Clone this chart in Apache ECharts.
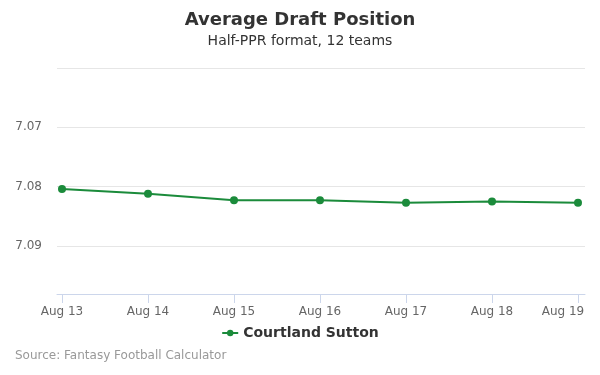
<!DOCTYPE html>
<html>
<head>
<meta charset="utf-8">
<script src="https://cdn.jsdelivr.net/npm/echarts@6/dist/echarts.min.js"></script>
<style>
  html, body { margin: 0; padding: 0; background: #fff; }
  #main { width: 600px; height: 375px; }
</style>
</head>
<body>
<div id="main"></div>
<script>
  // data
  var days = ['Aug 13', 'Aug 14', 'Aug 15', 'Aug 16', 'Aug 17', 'Aug 18', 'Aug 19'];
  var adp = [7.0804, 7.0812, 7.0823, 7.0823, 7.0827, 7.0825, 7.0827];
  var yTickLabels = ['7.07', '7.08', '7.09'];
  var playerName = 'Courtland Sutton';

  var green = '#1b8b3b';
  var font = 'DejaVu Sans';
  var yMin = 7.06, yMax = 7.0981;

  var myChart = echarts.init(document.getElementById('main'));

  myChart.setOption({
    animation: false,
    textStyle: { fontFamily: font },
    title: {
      text: 'Average Draft Position',
      subtext: 'Half-PPR format, 12 teams',
      left: 'center',
      top: 6,
      itemGap: 5,
      textStyle: { fontSize: 18, fontWeight: 'bold', color: '#333', fontFamily: font },
      subtextStyle: { fontSize: 14, color: '#333', fontFamily: font }
    },
    legend: {
      data: [playerName],
      bottom: 30,
      left: 'center',
      itemWidth: 16,
      itemHeight: 8,
      textStyle: { fontSize: 14, fontWeight: 'bold', color: '#333', fontFamily: font }
    },
    graphic: [{
      type: 'text',
      left: 15,
      top: 350,
      style: { text: 'Source: Fantasy Football Calculator', fill: '#999', fontSize: 12, fontFamily: font }
    }],
    grid: [
      // background grid: split lines and axis line
      { left: 57, right: 15, top: 68, bottom: 81, outerBoundsMode: 'none' },
      // plot grid: points sit inside
      { left: 62, right: 22, top: 68, bottom: 81, outerBoundsMode: 'none' }
    ],
    xAxis: [
      {
        gridIndex: 0, type: 'value', min: 0, max: 1,
        axisLine: { show: true, lineStyle: { color: '#ccd6eb' } },
        axisTick: { show: false }, axisLabel: { show: false }, splitLine: { show: false }
      },
      {
        gridIndex: 1, type: 'category', data: days, boundaryGap: false,
        axisLine: { show: false },
        axisTick: { show: true, interval: 0, length: 9, lineStyle: { color: '#ccd6eb' } },
        axisLabel: {
          interval: 0, hideOverlap: false,
          color: '#666', fontSize: 12, margin: 12,
          formatter: function (v, i) {
            return i === days.length - 1 ? '{last|' + v + '}' : v;
          },
          rich: { last: { color: '#666', fontSize: 12, fontFamily: font, padding: [0, 30, 0, 0] } }
        },
        splitLine: { show: false }
      }
    ],
    yAxis: [
      {
        gridIndex: 0, type: 'value', inverse: true, min: yMin, max: yMax, interval: 0.01,
        axisLine: { show: false }, axisTick: { show: false },
        axisLabel: {
          color: '#666', fontSize: 12, margin: 15,
          formatter: function (v) {
            var s = v.toFixed(2);
            return yTickLabels.indexOf(s) >= 0 && Math.abs(v - parseFloat(s)) < 1e-6 ? s : '';
          }
        },
        splitLine: { lineStyle: { color: '#e6e6e6' } }
      },
      {
        gridIndex: 1, type: 'value', inverse: true, min: yMin, max: yMax,
        show: false, splitLine: { show: false }
      }
    ],
    series: [{
      name: playerName,
      type: 'line',
      xAxisIndex: 1,
      yAxisIndex: 1,
      data: adp,
      symbol: 'circle',
      symbolSize: 8,
      itemStyle: { color: green },
      lineStyle: { color: green, width: 2 }
    }]
  });
</script>
</body>
</html>
